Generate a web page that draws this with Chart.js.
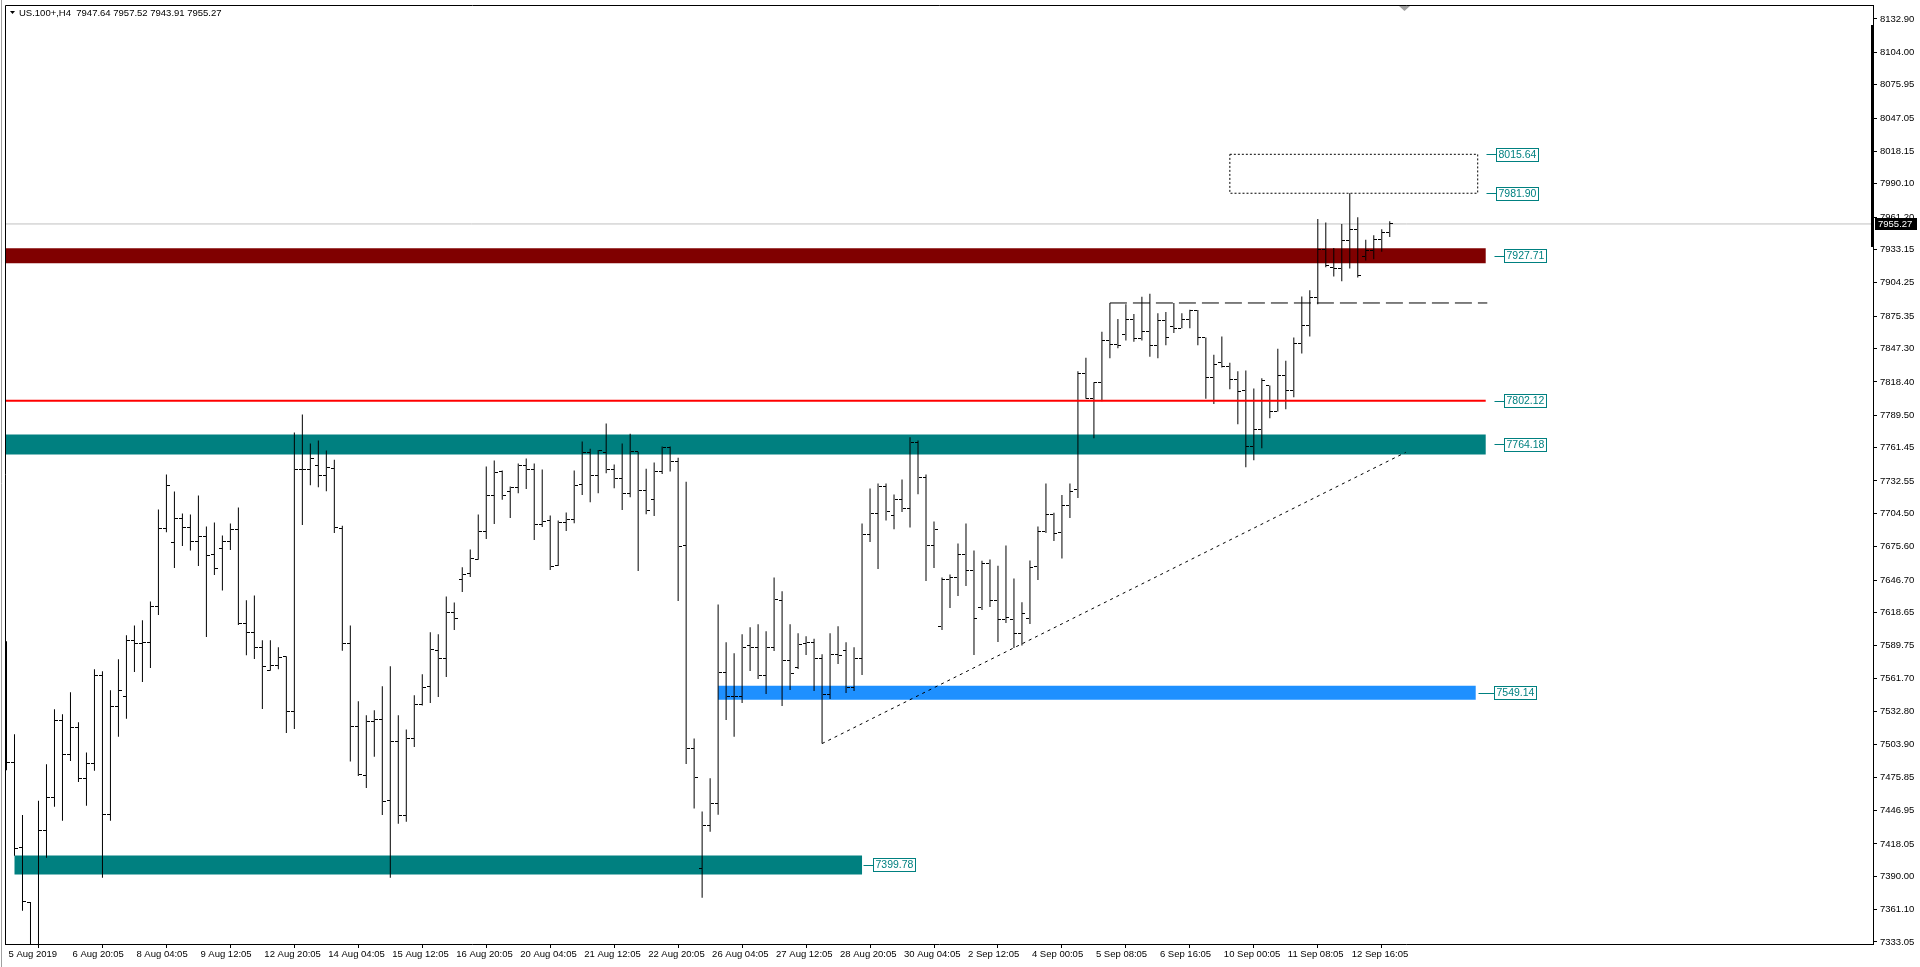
<!DOCTYPE html>
<html><head><meta charset="utf-8">
<script src="https://cdn.jsdelivr.net/npm/chart.js@4.4.1/dist/chart.umd.min.js"></script>
<style>html,body{margin:0;padding:0;background:#fff;overflow:hidden}canvas{display:block}</style>
</head><body>
<canvas id="c" width="1920" height="967"></canvas>
<script>
// ---------------- data ----------------
const SYMBOL = 'US.100+,H4';
const TIME_LABELS = ["5 Aug 2019","6 Aug 20:05","8 Aug 04:05","9 Aug 12:05","12 Aug 20:05","14 Aug 04:05","15 Aug 12:05","16 Aug 20:05","20 Aug 04:05","21 Aug 12:05","22 Aug 20:05","26 Aug 04:05","27 Aug 12:05","28 Aug 20:05","30 Aug 04:05","2 Sep 12:05","4 Sep 00:05","5 Sep 08:05","6 Sep 16:05","10 Sep 00:05","11 Sep 08:05","12 Sep 16:05"];
const BARS_PER_LABEL = 8;
const Y_TICKS = [8132.90,8104.00,8075.95,8047.05,8018.15,7990.10,7961.20,7933.15,7904.25,7875.35,7847.30,7818.40,7789.50,7761.45,7732.55,7704.50,7675.60,7646.70,7618.65,7589.75,7561.70,7532.80,7503.90,7475.85,7446.95,7418.05,7390.00,7361.10,7333.05];

const OPEN = [7530.0,7488.6,7415.0,7367.7,7326.0,7430.0,7458.3,7524.9,7495.2,7518.6,
7474.7,7487.7,7563.9,7443.5,7537.0,7545.7,7594.2,7591.9,7592.4,7623.9,
7691.4,7679.3,7699.8,7692.0,7679.9,7684.2,7668.6,7673.8,7679.9,7690.5,
7609.2,7601.1,7588.1,7568.2,7572.5,7580.6,7532.7,7742.2,7742.2,7745.6,
7737.0,7743.1,7691.1,7591.6,7519.7,7477.0,7524.1,7525.8,7455.7,7506.7,
7442.7,7509.3,7538.8,7554.6,7585.8,7578.9,7618.4,7647.0,7652.5,7664.9,
7688.5,7719.7,7740.8,7723.2,7726.6,7745.7,7742.5,7694.6,7698.3,7659.1,
7696.6,7699.5,7729.5,7756.9,7737.0,7756.9,7742.2,7734.4,7721.4,7757.8,
7724.0,7716.2,7740.5,7761.5,7749.1,7676.4,7500.7,7396.8,7434.3,7453.1,
7566.8,7545.7,7545.7,7589.6,7588.1,7563.9,7588.1,7628.8,7577.2,7570.5,
7591.6,7592.7,7578.6,7547.7,7582.0,7585.5,7553.5,7578.6,7685.9,7704.1,
7727.5,7702.4,7716.2,7708.4,7765.6,7735.3,7676.4,7606.3,7647.0,7649.0,
7668.6,7654.8,7622.8,7660.8,7628.8,7612.4,7612.4,7600.5,7613.2,7658.2,
7688.8,7703.3,7687.7,7711.3,7725.2,7825.3,7804.0,7817.5,7854.7,7850.4,
7859.1,7872.9,7856.2,7861.7,7850.1,7871.2,7866.0,7864.8,7872.1,7880.1,
7856.5,7821.8,7835.1,7832.0,7820.3,7810.9,7762.1,7777.4,7815.2,7792.7,
7823.9,7810.6,7851.3,7867.6,7891.5,7933.4,7917.5,7916.4,7941.2,7950.7,
7927.3,7932.5,7942.0,7947.64];

const HIGH = [7593.6,7513.1,7443.0,7367.7,7455.4,7487.1,7534.7,7530.4,7549.5,7523.5,
7497.2,7569.4,7567.6,7551.2,7578.0,7598.8,7607.4,7611.8,7628.2,7707.9,
7738.2,7723.4,7704.4,7703.5,7720.0,7693.1,7696.6,7685.4,7695.7,7709.6,
7629.1,7633.4,7594.5,7594.5,7588.4,7580.6,7774.5,7790.1,7765.0,7767.6,
7758.9,7750.9,7693.7,7607.4,7541.7,7529.5,7533.9,7554.6,7571.9,7529.5,
7517.1,7546.9,7565.0,7601.4,7599.7,7632.5,7627.3,7657.7,7673.2,7703.5,
7745.1,7750.3,7741.6,7727.8,7747.7,7752.0,7747.7,7742.5,7702.7,7698.3,
7705.3,7741.6,7766.7,7760.4,7759.5,7782.3,7746.8,7765.0,7773.4,7757.8,
7743.1,7748.6,7762.4,7762.4,7752.6,7731.8,7509.3,7446.1,7475.0,7625.6,
7592.7,7583.2,7599.7,7605.7,7608.3,7602.3,7649.0,7636.9,7608.3,7600.5,
7597.9,7595.9,7582.3,7600.5,7606.6,7592.7,7588.4,7695.8,7726.0,7730.4,
7730.4,7720.9,7733.8,7770.5,7767.6,7738.2,7697.5,7649.0,7651.6,7678.4,
7695.8,7672.4,7663.4,7664.6,7659.1,7676.7,7648.1,7627.4,7663.7,7693.1,
7730.4,7705.0,7720.3,7730.4,7827.6,7839.4,7818.1,7861.9,7886.8,7872.9,
7885.6,7877.2,7892.3,7894.8,7877.8,7879.0,7886.8,7877.8,7881.0,7880.7,
7856.8,7842.0,7857.8,7835.0,7827.6,7828.2,7812.6,7821.6,7815.2,7847.2,
7836.8,7856.8,7892.4,7897.9,7959.6,7956.5,7934.5,7955.3,7981.9,7961.1,
7941.5,7945.5,7950.7,7957.52];

const LOW = [7481.9,7407.8,7360.2,7315.0,7318.0,7406.0,7450.2,7438.1,7490.0,7471.8,
7451.1,7481.4,7388.7,7438.1,7510.8,7526.4,7567.0,7558.4,7570.5,7616.4,
7688.2,7657.1,7676.1,7672.4,7658.8,7597.4,7651.0,7637.7,7672.7,7607.7,
7581.5,7578.3,7535.0,7568.2,7569.4,7514.2,7517.7,7694.3,7728.9,7727.2,
7723.7,7687.4,7585.5,7489.4,7477.0,7466.6,7493.5,7443.0,7388.7,7435.5,
7437.2,7502.1,7537.9,7540.2,7545.4,7562.7,7603.4,7636.3,7649.3,7664.3,
7682.2,7695.2,7716.2,7700.4,7722.0,7725.5,7681.3,7692.6,7655.3,7658.8,
7689.1,7696.0,7720.3,7714.2,7722.0,7739.3,7726.3,7707.3,7718.5,7654.5,
7703.8,7702.1,7738.7,7740.8,7628.5,7487.4,7448.8,7371.4,7428.5,7443.3,
7525.5,7510.8,7540.2,7567.9,7561.0,7548.0,7585.2,7537.6,7551.5,7569.6,
7581.8,7550.6,7505.0,7543.7,7574.0,7548.9,7550.6,7564.5,7679.6,7656.2,
7698.4,7690.8,7705.6,7692.3,7721.1,7645.8,7657.1,7603.4,7622.5,7632.9,
7641.5,7581.8,7620.7,7623.3,7593.0,7609.5,7587.8,7589.9,7608.6,7646.7,
7687.4,7680.5,7665.4,7700.4,7717.7,7803.7,7769.6,7801.6,7838.9,7847.5,
7854.2,7853.3,7854.2,7840.3,7838.9,7850.1,7860.8,7864.8,7864.8,7850.1,
7803.7,7799.3,7830.8,7812.0,7781.7,7744.5,7750.6,7760.9,7786.9,7792.7,
7794.7,7805.1,7843.1,7857.8,7885.8,7917.8,7909.7,7905.7,7916.6,7908.9,
7923.6,7924.7,7931.1,7943.91];

const CLOSE = [7488.6,7414.1,7368.2,7326.0,7430.0,7458.3,7524.9,7495.2,7518.6,7474.7,
7487.7,7563.9,7443.5,7537.0,7551.2,7594.2,7591.9,7592.4,7623.9,7691.4,
7728.4,7699.8,7692.0,7679.9,7684.2,7667.8,7656.5,7679.9,7690.5,7608.9,
7601.1,7588.1,7571.7,7572.5,7579.8,7532.7,7742.2,7742.2,7751.7,7737.0,
7743.9,7692.0,7591.6,7519.7,7478.2,7524.1,7525.8,7454.8,7506.7,7442.7,
7509.3,7538.8,7553.8,7586.7,7578.9,7618.4,7613.2,7651.6,7665.2,7688.5,
7719.7,7739.9,7719.7,7726.6,7745.7,7742.2,7694.6,7697.5,7658.2,7696.6,
7699.5,7728.3,7756.9,7737.0,7758.7,7742.2,7734.4,7721.4,7757.8,7724.0,
7706.7,7740.5,7761.5,7749.1,7675.5,7500.7,7475.6,7434.3,7453.1,7566.8,
7545.7,7545.7,7588.1,7588.1,7563.9,7588.1,7629.7,7577.2,7565.6,7590.7,
7592.7,7578.6,7547.7,7582.0,7581.2,7553.5,7578.6,7685.9,7704.1,7727.5,
7705.9,7716.2,7708.4,7765.6,7735.3,7676.4,7690.3,7647.0,7649.0,7668.6,
7654.8,7613.2,7660.8,7628.8,7612.4,7614.1,7600.5,7617.6,7657.4,7688.8,
7703.3,7687.4,7711.3,7723.7,7825.3,7804.0,7817.5,7854.7,7850.4,7849.8,
7872.9,7856.2,7861.7,7850.1,7871.2,7856.5,7864.8,7872.1,7880.1,7856.5,
7821.8,7833.1,7832.0,7820.3,7810.0,7762.1,7777.4,7819.5,7792.7,7823.9,
7810.6,7851.3,7867.6,7891.5,7933.4,7919.5,7916.4,7941.2,7950.7,7910.9,
7932.5,7942.0,7947.64,7955.27];

// horizontal levels (price, from bar index, to bar index)
const LEVEL_PRICES = [7927.71, 7802.12, 7764.18, 7549.14, 7399.78];
const LEVEL_FROM   = [-1, -1, -1, 89, 1];
const LEVEL_TO     = [185, 185, 185, 183.75, 107];
// dotted box
const BOX_PRICES = [8015.64, 7981.90];
const BOX_SPAN   = [153, 184];
// dashed resistance
const RES_PRICE = 7886.8;
const RES_SPAN  = [138, 185.2];
// dotted trend line
const TREND_X = [102, 175];
const TREND_Y = [7505.0, 7757.4];

// ---------------- styles ----------------
const FONT = '"Liberation Sans", Arial, sans-serif';
const TEAL = '#008080';
const LEVEL_STYLE = [
  {color:'#800000', width:15, gap:18.5, line:10},
  {color:'#ff0000', width:2,  gap:18.5, line:10},
  {color:'#008080', width:20, gap:18.5, line:10},
  {color:'#1e90ff', width:14, gap:18.5, line:16},
  {color:'#008080', width:19, gap:10.5, line:10}
];
const BOX_TAG = {gap:18.5, line:10};

function tickImg(left){
  const c = document.createElement('canvas');
  c.width = 7; c.height = 1;
  const g = c.getContext('2d');
  g.fillStyle = '#000';
  g.fillRect(left ? 0 : 4, 0, 3, 1);
  return c;
}
const openImg = tickImg(true), closeImg = tickImg(false);

const N = OPEN.length;
const datasets = [];

// levels
LEVEL_PRICES.forEach((p, k) => {
  datasets.push({
    type:'line', data:[{x:LEVEL_FROM[k], y:p},{x:LEVEL_TO[k], y:p}],
    borderColor: LEVEL_STYLE[k].color, borderWidth: LEVEL_STYLE[k].width,
    borderCapStyle:'butt', pointRadius:0, fill:false, order: k === 1 ? 2 : 10
  });
});
// current price line
datasets.push({
  type:'line', data:[{x:-1, y:CLOSE[N-1]},{x:240, y:CLOSE[N-1]}],
  borderColor:'#c0c0c0', borderWidth:1, pointRadius:0, fill:false, order:9
});
// OHLC: high-low bars
datasets.push({
  type:'bar', data: HIGH.map((h,i)=>({x:i, y:[LOW[i], h]})),
  backgroundColor:'#000', borderWidth:0, barThickness:1, inflateAmount:0, order:5
});
// open / close ticks
datasets.push({ type:'scatter', data: OPEN.map((o,i)=>({x:i,y:o})), pointStyle: openImg, pointRadius:3, order:4 });
datasets.push({ type:'scatter', data: CLOSE.map((c,i)=>({x:i,y:c})), pointStyle: closeImg, pointRadius:3, order:4 });
// dashed resistance
datasets.push({
  type:'line', data:[{x:RES_SPAN[0], y:RES_PRICE},{x:RES_SPAN[1], y:RES_PRICE}],
  borderColor:'#000', borderWidth:1, borderDash:[17,6], pointRadius:0, fill:false, order:2
});
// dotted box
datasets.push({
  type:'line', data:[
    {x:BOX_SPAN[0], y:BOX_PRICES[0]},{x:BOX_SPAN[1], y:BOX_PRICES[0]},
    {x:BOX_SPAN[1], y:BOX_PRICES[1]},{x:BOX_SPAN[0], y:BOX_PRICES[1]},
    {x:BOX_SPAN[0], y:BOX_PRICES[0]}],
  borderColor:'#000', borderWidth:1, borderDash:[2,2], pointRadius:0, fill:false, order:2
});
// dotted trend
datasets.push({
  type:'line', data:[{x:TREND_X[0], y:TREND_Y[0]},{x:TREND_X[1], y:TREND_Y[1]}],
  borderColor:'#000', borderWidth:1, borderDash:[3,4], pointRadius:0, fill:false, order:2
});

function priceTag(ctx, xBox, y, text, lineLen){
  ctx.save();
  ctx.font = '10.5px ' + FONT;
  const w = Math.round(ctx.measureText(text).width) + 4;
  const h = 13;
  const yc = Math.round(y) + 0.5;
  const yt = Math.round(y - h/2) + 0.5;
  const xb = Math.round(xBox) + 0.5;
  ctx.strokeStyle = TEAL; ctx.lineWidth = 1;
  ctx.beginPath(); ctx.moveTo(xb - lineLen, yc); ctx.lineTo(xb, yc); ctx.stroke();
  ctx.fillStyle = '#fff'; ctx.fillRect(xb, yt, w, h);
  ctx.strokeRect(xb, yt, w, h);
  ctx.fillStyle = TEAL; ctx.textBaseline = 'middle'; ctx.textAlign = 'left';
  ctx.fillText(text, xb + 2, yt + h/2 + 0.5);
  ctx.restore();
}

const overlay = {
  id:'overlay',
  beforeDatasetsDraw(chart){ chart.ctx.imageSmoothingEnabled = false; },
  afterDatasetsDraw(chart){
    const ctx = chart.ctx, xs = chart.scales.x, ys = chart.scales.y;
    LEVEL_PRICES.forEach((p,k)=>{
      priceTag(ctx, xs.getPixelForValue(LEVEL_TO[k]) + LEVEL_STYLE[k].gap, ys.getPixelForValue(p), p.toFixed(2), LEVEL_STYLE[k].line);
    });
    BOX_PRICES.forEach(p=>{
      priceTag(ctx, xs.getPixelForValue(BOX_SPAN[1]) + BOX_TAG.gap, ys.getPixelForValue(p), p.toFixed(2), BOX_TAG.line);
    });
  },
  afterDraw(chart){
    const ctx = chart.ctx, a = chart.chartArea, ys = chart.scales.y;
    ctx.save();
    // window edge
    ctx.strokeStyle = '#a0a0a0'; ctx.lineWidth = 1;
    ctx.beginPath(); ctx.moveTo(1.5, 0); ctx.lineTo(1.5, 967); ctx.stroke();
    // frame top/left
    ctx.strokeStyle = '#000';
    ctx.beginPath();
    ctx.moveTo(a.left + 0.5, a.bottom); ctx.lineTo(a.left + 0.5, a.top + 0.5); ctx.lineTo(a.right + 1, a.top + 0.5);
    ctx.stroke();
    // thick segment on price scale
    ctx.fillStyle = '#000';
    const y1 = ys.getPixelForValue(8128), y2 = ys.getPixelForValue(7936);
    ctx.fillRect(a.right - 2, Math.round(y1), 3, Math.round(y2 - y1));
    // chart-shift marker
    ctx.fillStyle = '#a0a0a0';
    ctx.beginPath(); ctx.moveTo(1399, a.top + 1); ctx.lineTo(1410, a.top + 1); ctx.lineTo(1404.5, a.top + 6); ctx.closePath(); ctx.fill();
    // current price box
    const last = CLOSE[N-1];
    const yc = Math.round(ys.getPixelForValue(last));
    ctx.fillStyle = '#000';
    ctx.fillRect(a.right + 2, yc - 6, 42, 12);
    ctx.fillStyle = '#fff'; ctx.font = '9.5px ' + FONT; ctx.textBaseline = 'middle'; ctx.textAlign = 'left';
    ctx.fillText(last.toFixed(2), a.right + 5, yc + 0.5);
    // header
    ctx.fillStyle = '#000';
    ctx.beginPath(); ctx.moveTo(10, 11); ctx.lineTo(15, 11); ctx.lineTo(12.5, 14); ctx.closePath(); ctx.fill();
    ctx.font = '9.5px ' + FONT; ctx.textBaseline = 'middle';
    const hdr = SYMBOL + '  ' + [OPEN[N-1], HIGH[N-1], LOW[N-1], CLOSE[N-1]].map(v=>v.toFixed(2)).join(' ');
    ctx.fillText(hdr, 19, 13);
    ctx.restore();
  }
};

const tickFont = {family: FONT, size: 9.5};

new Chart(document.getElementById('c'), {
  type:'bar',
  data:{ datasets },
  options:{
    responsive:false, animation:false, devicePixelRatio:1, events:[],
    layout:{ padding:{left:4, top:4, right:0, bottom:0} },
    plugins:{ legend:{display:false}, tooltip:{enabled:false} },
    scales:{
      x:{
        type:'linear', min:-0.1875, max:233.4375, bounds:'data', offset:false,
        afterBuildTicks: s => { s.ticks = TIME_LABELS.map((_,k)=>({value:k*BARS_PER_LABEL})); },
        ticks:{ callback: v => TIME_LABELS[Math.round(v / BARS_PER_LABEL)], align:'start', labelOffset:2, padding:1,
                maxRotation:0, minRotation:0, autoSkip:false, font:tickFont, color:'#000' },
        grid:{ drawOnChartArea:false, drawTicks:true, tickLength:4, color:'#000' },
        border:{ display:true, color:'#000' },
        afterFit: s => { s.height = 23; s.paddingLeft = 0; s.paddingRight = 0; }
      },
      y:{
        type:'linear', position:'right', min:7331.31, max:8145.02, bounds:'data',
        afterBuildTicks: s => { s.ticks = Y_TICKS.map(v=>({value:v})); },
        ticks:{ callback: v => Number(v).toFixed(2), padding:3, autoSkip:false, font:tickFont, color:'#000' },
        grid:{ drawOnChartArea:false, drawTicks:true, tickLength:4, color:'#000' },
        border:{ display:true, color:'#000' },
        afterFit: s => { s.width = 47; s.paddingTop = 0; s.paddingBottom = 0; }
      }
    }
  },
  plugins:[overlay]
});
</script>
</body></html>
